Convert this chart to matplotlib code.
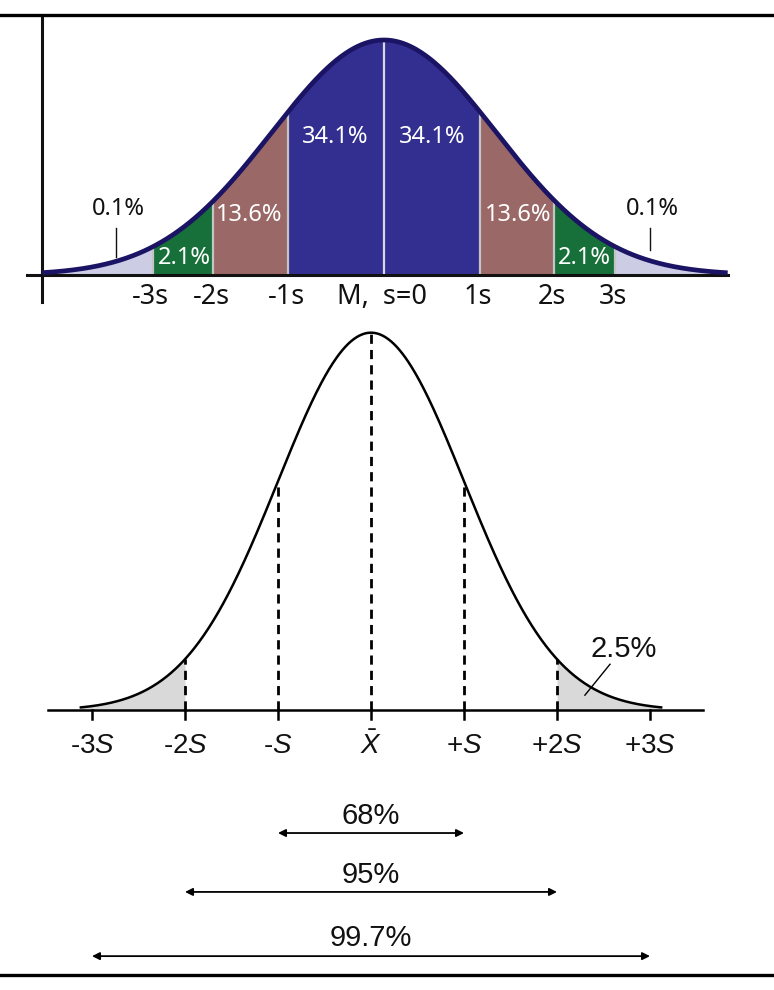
import numpy as np
import matplotlib
matplotlib.use('Agg')
import matplotlib.pyplot as plt
from matplotlib.lines import Line2D

plt.rcParams['mathtext.fontset'] = 'custom'
plt.rcParams['mathtext.rm'] = 'Liberation Sans'
plt.rcParams['mathtext.it'] = 'Liberation Sans:italic'

# top chart: coloured bell curve (x in sigma units)
top_sd = 1.17
top_range = [-3.56, 3.58]
top_bounds = [-2.41, -1.78, -1.0, 0.0, 1.0, 1.77, 2.41]
top_ticks = ['-3s', '-2s', '-1s', 'M,  s=0', '1s', '2s', '3s']
top_pct = ['0.1%', '2.1%', '13.6%', '34.1%', '34.1%', '13.6%', '2.1%', '0.1%']
top_colors = ['#ccccE4', '#17703a', '#9a6866', '#322f91',
              '#322f91', '#9a6866', '#17703a', '#ccccE4']

# bottom chart: black bell curve
bot_range = [-3.12, 3.12]
bot_ticks = [-3, -2, -1, 0, 1, 2, 3]
bot_labels = ['-3$S$', '-2$S$', '-$S$', r'$\bar{X}$', '+$S$', '+2$S$', '+3$S$']
bot_dashed = [-2, -1, 0, 1, 2]
spans = [1, 2, 3]
span_pct = ['68%', '95%', '99.7%']
tail_pct = '2.5%'


def top_curve(z):
    return np.exp(-z ** 2 / (2 * top_sd ** 2))


def bot_curve(z):
    return np.exp(-z ** 2 / 2)


fig = plt.figure(figsize=(7.74, 9.9), dpi=100)

# ---------- top chart ----------
ax1 = fig.add_axes([0, 0, 1, 1])
ax1.set_xlim(-4.0, 4.0625)
ax1.set_ylim(-3.0426, 1.1702)
ax1.axis('off')

edges = [top_range[0]] + top_bounds + [top_range[1]]
for i, c in enumerate(top_colors):
    xs = np.linspace(edges[i], edges[i + 1], 200)
    ax1.fill_between(xs, 0, top_curve(xs), color=c, lw=0, zorder=1)
for b in top_bounds:
    col = '#d8d8e8' if b == 0 else '#c4c4c4'
    ax1.plot([b, b], [0, top_curve(b)], color=col, lw=1.6, zorder=2)

ax1.plot([-3.72, 3.58], [0, 0], color='#111111', lw=2.2, zorder=3)
ax1.plot([-3.5625, -3.5625], [-0.115, 1.094], color='#111111', lw=2.2, zorder=3)
zz = np.linspace(top_range[0], top_range[1], 600)
ax1.plot(zz, top_curve(zz), color='#1b1464', lw=3.4, zorder=4,
         solid_capstyle='butt')

fnt = 'Noto Sans'
for b, t in zip(top_bounds, top_ticks):
    ax1.text(b - 0.02, -0.094, t, ha='center', va='center', fontsize=19.5,
             family=fnt, color='#111111')

pct_pos = [(-2.77, 0.28), (-2.08, 0.072), (-1.40, 0.255), (-0.51, 0.587),
           (0.50, 0.587), (1.40, 0.255), (2.09, 0.072), (2.80, 0.28)]
for (px, py), t, c in zip(pct_pos, top_pct, top_colors):
    col = '#111111' if t == '0.1%' else 'white'
    ax1.text(px, py, t, ha='center', va='center', fontsize=17,
             family=fnt, color=col, zorder=5)
ax1.plot([-2.79, -2.79], [0.077, 0.2], color='#111111', lw=1.0, zorder=5)
ax1.plot([2.77, 2.77], [0.106, 0.2], color='#111111', lw=1.0, zorder=5)

# ---------- bottom chart ----------
ax2 = fig.add_axes([0, 0, 1, 1])
ax2.set_xlim(-3.9892, 4.3333)
ax2.set_ylim(-0.7407, 1.8810)
ax2.axis('off')
ax2.patch.set_alpha(0)

xl = np.linspace(bot_range[0], -2, 200)
xr = np.linspace(2, bot_range[1], 200)
ax2.fill_between(xl, 0, bot_curve(xl), color='#d9d9d9', lw=0)
ax2.fill_between(xr, 0, bot_curve(xr), color='#d9d9d9', lw=0)
zb = np.linspace(bot_range[0], bot_range[1], 600)
ax2.plot(zb, bot_curve(zb), color='black', lw=1.8)
for d in bot_dashed:
    ax2.plot([d, d], [0, bot_curve(d)], color='black', lw=2.0,
             dashes=(3.3, 2.2))
ax2.plot([-3.47, 3.57], [0, 0], color='black', lw=1.8)
for t, lab in zip(bot_ticks, bot_labels):
    ax2.plot([t, t], [0, -0.024], color='black', lw=1.8)
    ax2.text(t, -0.095, lab, ha='center', va='center', fontsize=20,
             family='Liberation Sans', color='#111111')

ax2.text(2.72, 0.163, tail_pct, ha='center', va='center', fontsize=21,
         family='Liberation Sans', color='#111111')
ax2.plot([2.30, 2.57], [0.04, 0.122], color='black', lw=1.0)

span_y = [-0.325, -0.481, -0.651]
text_y = [-0.28, -0.436, -0.604]
for k, t, ay, ty in zip(spans, span_pct, span_y, text_y):
    ax2.annotate('', xy=(k, ay), xytext=(-k, ay),
                 arrowprops=dict(arrowstyle='<|-|>', color='black', lw=1.3,
                                 mutation_scale=11, shrinkA=0, shrinkB=0))
    ax2.text(0, ty, t, ha='center', va='center', fontsize=21,
             family='Liberation Sans', color='#111111')

# frame lines
fig.add_artist(Line2D([0, 1], [1 - 15 / 990, 1 - 15 / 990], color='black', lw=2.4))
fig.add_artist(Line2D([0, 1], [1 - 975 / 990, 1 - 975 / 990], color='black', lw=2.4))

fig.savefig('out.png', dpi=100, facecolor='white')
